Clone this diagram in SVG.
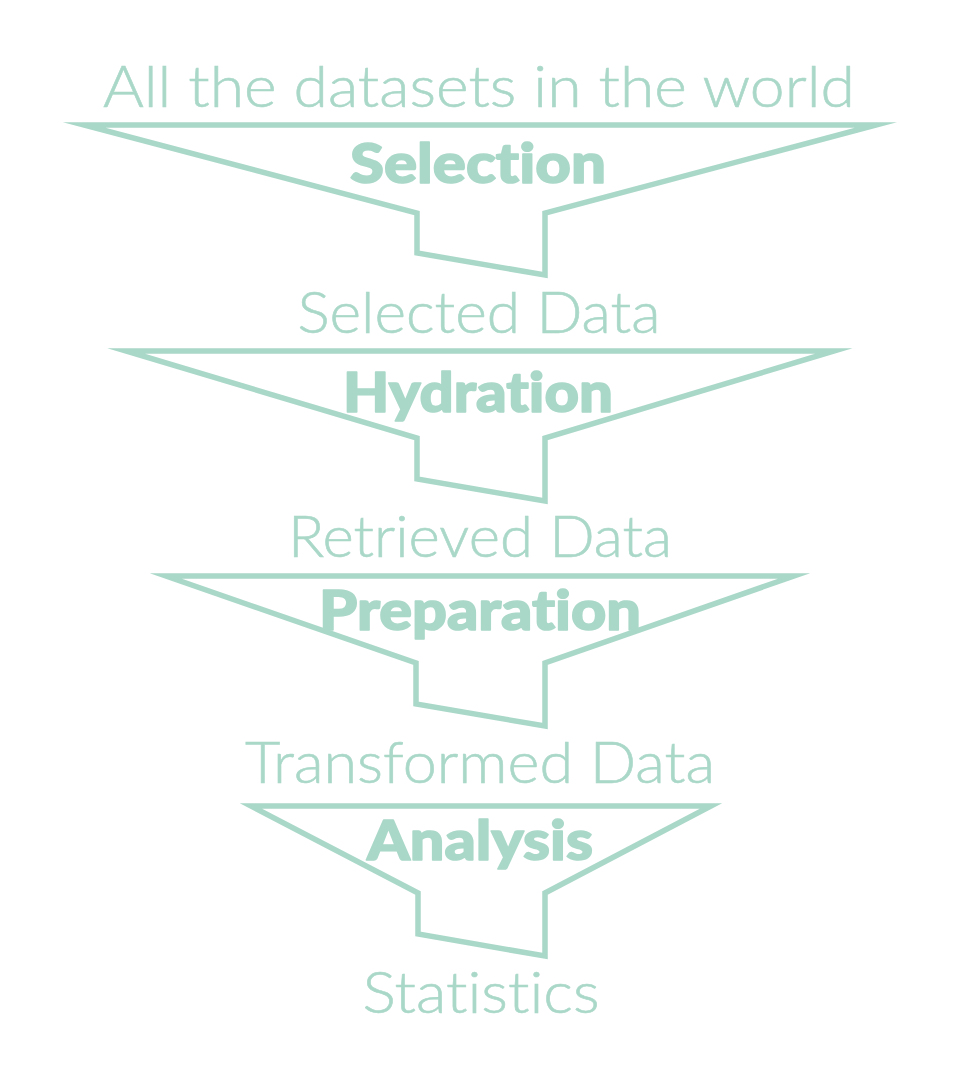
<svg xmlns="http://www.w3.org/2000/svg" width="960" height="1080" viewBox="0 0 960 1080">
  <style>
    .funnel { fill: none; stroke: #aad8c8; stroke-width: 5.5; stroke-linejoin: miter; stroke-miterlimit: 20; }
    .data { font-family: Lato, "Open Sans", "Liberation Sans", sans-serif; font-weight: 300; font-size: 57px; fill: #aad8c8; stroke: #aad8c8; stroke-width: 0.6; text-anchor: middle; font-variant-ligatures: none; }
    .step { font-family: Lato, "Open Sans", "Liberation Sans", sans-serif; font-weight: 900; font-size: 56px; fill: #aad8c8; stroke: #aad8c8; stroke-width: 1.6; stroke-linejoin: round; text-anchor: middle; font-variant-ligatures: none; }
  </style>
  <rect width="960" height="1080" fill="#ffffff"/>

  <!-- funnel outlines -->
  <g id="connectors">
    <polygon id="funnel-selection" class="funnel" points="84,125 876,125 545,213 545,275 417,253 417,213"/>
    <polygon id="funnel-hydration" class="funnel" points="126,351 834,351 545,438 545,501 417,479 417,438"/>
    <polygon id="funnel-preparation" class="funnel" points="166,576 794,576 545,663 545,726 416,704 416,663"/>
    <polygon id="funnel-analysis" class="funnel" points="251,806 711,806 545,893 545,956 418,934 418,893"/>
  </g>

  <!-- data stages -->
  <g id="all-datasets"><text class="data" x="479" y="107" textLength="752" lengthAdjust="spacingAndGlyphs">All the datasets in the world</text></g>
  <g id="selected-data"><text class="data" x="479" y="333" textLength="363" lengthAdjust="spacingAndGlyphs">Selected Data</text></g>
  <g id="retrieved-data"><text class="data" x="480" y="557" textLength="384" lengthAdjust="spacingAndGlyphs">Retrieved Data</text></g>
  <g id="transformed-data"><text class="data" x="480" y="783" textLength="470" lengthAdjust="spacingAndGlyphs">Transformed Data</text></g>
  <g id="statistics"><text class="data" x="481" y="1013" textLength="237" lengthAdjust="spacingAndGlyphs">Statistics</text></g>

  <!-- processing steps -->
  <g id="selection"><text class="step" x="478" y="183" textLength="256" lengthAdjust="spacingAndGlyphs">Selection</text></g>
  <g id="hydration"><text class="step" x="478" y="412" textLength="270" lengthAdjust="spacingAndGlyphs">Hydration</text></g>
  <g id="preparation"><text class="step" x="480" y="630" textLength="322" lengthAdjust="spacingAndGlyphs">Preparation</text></g>
  <g id="analysis"><text class="step" x="480" y="860" textLength="226" lengthAdjust="spacingAndGlyphs">Analysis</text></g>
</svg>
